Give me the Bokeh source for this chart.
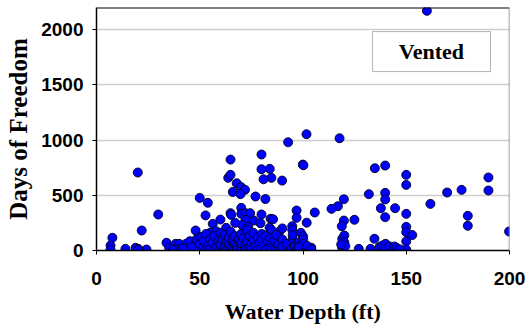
from bokeh.plotting import figure
from bokeh.models import Range1d, FixedTicker, Span, BoxAnnotation, Label
from bokeh.embed import file_html
from bokeh.resources import INLINE

# Water depth (ft) and days of freedom
depth = [
    160, 92.8, 101.7, 117.7, 20, 64.9, 79.9, 79.9, 83.9, 84.7, 80.9, 89.9, 99.9, 100.2,
    63.8, 64.9, 66, 67.9, 70, 71.9, 69.7, 77, 81.8, 50, 53.9, 52.8, 29.9,
    134.8, 139.8, 131.9, 139.8, 139.8, 137.7, 144.6, 139.8, 150, 150, 150,
    161.7, 169.8, 176.8, 179.8, 179.8, 189.8, 189.8, 199.8,
    119.8, 116.9, 113.8, 105.7, 119.8, 118.8, 124.9, 101.8,
    56.3, 60, 62.8, 64.9, 65.2, 70.1, 70.1, 72.2, 74.4, 72.2, 76.2, 79.9, 79.4,
    84.3, 85.5, 83.8, 84.7, 96.9, 96.9, 94.8, 94.8, 70.5, 73.5, 67.2, 88.5, 55,
    48, 21.9, 58, 90, 99,
    150, 150, 152.9, 150, 150,
    119, 120, 120, 119, 120.5, 118.5, 127, 132.7, 134.6, 137, 138.4, 140, 140,
    142, 144.3, 145.3, 147,
    6.8, 7.7, 6.8, 14, 18.9, 20.2, 20, 24.2, 33.9, 35.2, 38.3, 40, 39.4, 43.3,
    45.2, 48.4, 50, 52, 42, 46, 37,
    50, 50, 51, 52, 52, 53, 53, 54, 55, 55, 56, 57, 57, 58, 59, 60, 60, 60, 61,
    62, 62, 63, 63, 64, 64, 65, 65, 66, 66, 67, 67, 68, 68, 69, 70, 70, 70, 71,
    72, 72, 73, 73, 74, 74, 75, 75, 76, 76, 77, 78, 78, 79, 80, 80, 80, 81, 82,
    82, 83, 84, 84, 85, 85, 86, 87, 87, 88, 89, 90, 90, 92, 94, 95, 95, 96, 97,
    98, 99, 100, 100, 101, 102, 103, 104,
    100.1, 100.1, 101.7, 102, 98, 104,
]
days = [
    2170, 980, 1053, 1016, 706, 823, 869, 736, 739, 658, 645, 633, 778, 772,
    658, 685, 530, 609, 575, 550, 510, 489, 466, 476, 432, 318, 326,
    745, 769, 510, 522, 462, 383, 383, 302, 685, 594, 332,
    422, 525, 549, 314, 224, 661, 543, 172,
    464, 401, 377, 344, 271, 220, 278, 252,
    241, 280, 205, 338, 322, 386, 332, 338, 338, 278, 271, 326, 247,
    287, 283, 205, 187, 362, 296, 220, 187, 232, 215, 250, 170, 160,
    181, 181, 175, 200, 160,
    214, 166, 140, 82, 8,
    106, 136, 75, 24, 40, 55, 15, 15, 106, 30, 45, 60, 15,
    36, 36, 24, 10,
    45, 115, 6, 15, 24, 15, 5, 9, 70, 24, 60, 60, 9, 60,
    84, 100, 121, 70, 20, 30, 5,
    10, 60, 120, 30, 90, 5, 150, 45, 20, 100, 70, 10, 130, 40, 85, 15, 55, 160, 100,
    30, 140, 5, 75, 50, 115, 20, 170, 90, 10, 60, 130, 35, 5, 100, 20, 65, 150, 110,
    40, 5, 80, 185, 25, 130, 60, 10, 95, 160, 35, 5, 120, 70, 20, 150, 100, 45, 5,
    130, 80, 30, 110, 60, 10, 90, 140, 20, 50, 5, 100, 35, 60, 10, 105, 140, 40, 5,
    70, 20, 60, 130, 10, 40, 5, 25,
    100, 60, 6, 40, 30, 10,
]

x_ticks = [0, 50, 100, 150, 200]
y_ticks = [0, 500, 1000, 1500, 2000]
legend_text = "Vented"

p = figure(width=529, height=327, output_backend="svg", toolbar_location=None,
           x_range=Range1d(0, 200), y_range=Range1d(0, 2200),
           min_border_left=96, min_border_right=20, min_border_top=7, min_border_bottom=77)
p.background_fill_color = "white"
p.border_fill_color = "white"
p.outline_line_color = None

p.scatter(depth, days, size=9, fill_color="#0000FF", line_color="#000020", line_width=0.9)

p.xgrid.visible = False
p.ygrid.grid_line_color = "#cfcfcf"
p.ygrid.grid_line_width = 1.5
p.ygrid.ticker = FixedTicker(ticks=y_ticks)

for ax in (p.xaxis[0], p.yaxis[0]):
    ax.axis_line_color = "black"
    ax.axis_line_width = 1.5
    ax.major_tick_line_color = "black"
    ax.major_tick_in = 0
    ax.major_tick_out = 4
    ax.minor_tick_line_color = None
    ax.major_label_text_font = "Liberation Sans"
    ax.major_label_text_font_style = "bold"
    ax.major_label_text_font_size = "19px"
    ax.major_label_text_color = "black"
    ax.axis_label_text_font = "Liberation Serif"
    ax.axis_label_text_font_style = "bold"
    ax.axis_label_text_color = "black"

p.xaxis[0].ticker = FixedTicker(ticks=x_ticks)
p.yaxis[0].ticker = FixedTicker(ticks=y_ticks)
p.xaxis[0].axis_label = "Water Depth (ft)"
p.yaxis[0].axis_label = "Days of Freedom"
p.xaxis[0].axis_label_text_font_size = "22px"
p.yaxis[0].axis_label_text_font_size = "25px"
p.xaxis[0].major_label_standoff = 17
p.yaxis[0].major_label_standoff = 9
p.xaxis[0].axis_label_standoff = 11
p.yaxis[0].axis_label_standoff = 6

p.add_layout(Span(location=2200, dimension="width", line_color="black", line_width=2))
p.add_layout(Span(location=200, dimension="height", line_color="#808080", line_width=1.5))

p.add_layout(BoxAnnotation(left=133.7, right=190.8, bottom=1620, top=1982,
                           fill_color="white", fill_alpha=1.0,
                           line_color="black", line_width=1, level="overlay"))
p.add_layout(Label(x=162.2, y=1801, text=legend_text, text_align="center",
                   text_baseline="middle", text_font="Liberation Serif",
                   text_font_style="bold", text_font_size="22px", text_color="black",
                   level="overlay"))

open("out.html", "w").write(file_html(p, INLINE))
